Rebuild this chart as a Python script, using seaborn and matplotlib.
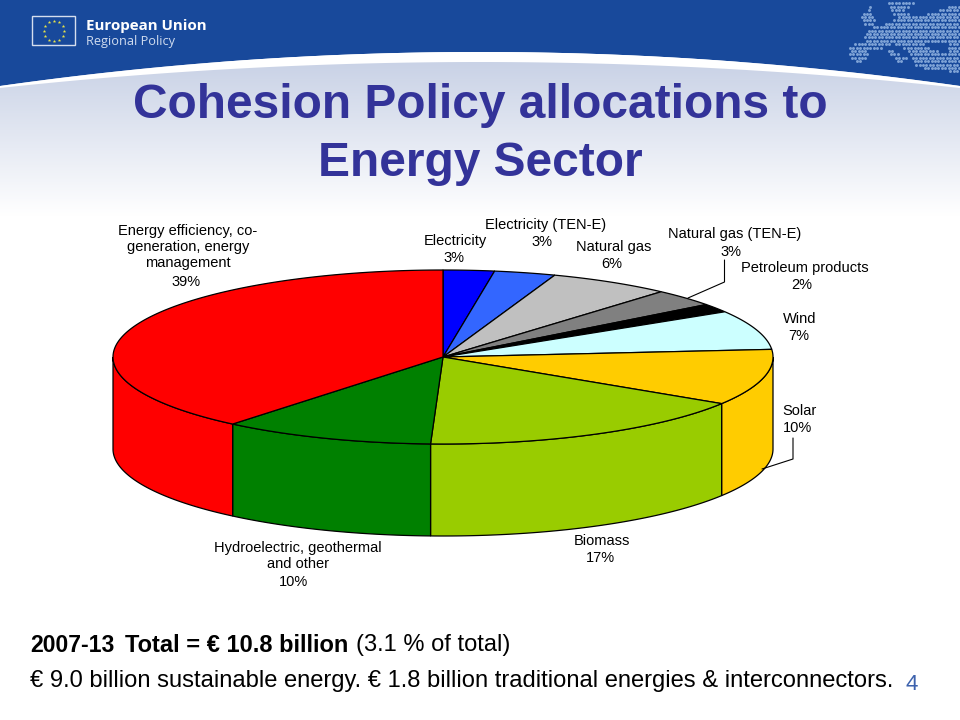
import matplotlib
matplotlib.use("Agg")
import matplotlib.pyplot as plt
from matplotlib.patches import Polygon, Rectangle
from matplotlib.path import Path
import numpy as np
import seaborn as sns

# Slices, clockwise from 12 o'clock
names = ['Electricity', 'Electricity (TEN-E)', 'Natural gas', 'Natural gas (TEN-E)',
         'Petroleum products', 'Wind', 'Solar', 'Biomass',
         'Hydroelectric, geothermal\nand other', 'Energy efficiency, co-\ngeneration, energy\nmanagement']
shares = [2.5, 3.0, 6.0, 3.2, 1.6, 7.3, 10.4, 16.6, 10.4, 39.0]
pct_labels = [3, 3, 6, 3, 2, 7, 10, 17, 10, 39]
slice_colors = ['#0000ff', '#3366ff', '#c0c0c0', '#808080', '#000000',
                '#ccffff', '#ffcc00', '#99cc00', '#008000', '#ff0000']
# label centres in pixels
name_x = [455, 546, 614, 735, 805, 800, 799, 602, 298, 188]
name_y = [241, 225, 247, 234, 268, 319, 411, 541, 556, 247]
pct_x = [454, 542, 612, 731, 802, 799, 798, 600, 294, 186]
pct_y = [258, 242, 264, 252, 285, 336, 428, 558, 582, 282]

title_lines = ['Cohesion Policy allocations to', 'Energy Sector']

HEADER = '#18499b'
TITLE = '#333399'

sns.set_theme(style='white')
plt.rcParams['font.family'] = ['Liberation Sans', 'DejaVu Sans']
palette = sns.color_palette(slice_colors)

fig = plt.figure(figsize=(9.6, 7.2), dpi=100)
ax = fig.add_axes([0, 0, 1, 1])
ax.set_xlim(0, 960)
ax.set_ylim(720, 0)
ax.axis('off')

# Slide background
grad = np.linspace(0, 1, 200).reshape(-1, 1)
start = np.array([201, 210, 230]) / 255
bg = start + (1 - start) * grad[..., None]
ax.imshow(bg, extent=[0, 960, 216, 62], aspect='auto', zorder=0)
ax.set_xlim(0, 960)
ax.set_ylim(720, 0)

xs = np.linspace(0, 960, 300)
u = ((xs - 480) / 480) ** 2
ax.fill_between(xs, 0, 52 + 34 * u, color=HEADER, lw=0, zorder=1)
ax.fill_between(xs, 52 + 34 * u, 62 + 26 * u, color='white', lw=0, zorder=1)

# EU flag
ax.add_patch(Rectangle((32, 16), 43, 29, fc='#18499b', ec='#d5deee', lw=1, zorder=2))
star_t = np.arange(12) * np.pi / 6
ax.scatter(54 + 10 * np.cos(star_t), 31 + 10 * np.sin(star_t), marker='*', s=7,
           color='#e6e34a', lw=0, zorder=3)
ax.text(85.5, 26, 'European Union', color='white', fontsize=10.9, fontweight='bold',
        family=['Open Sans', 'DejaVu Sans'], va='center', zorder=3)
ax.text(85.5, 41, 'Regional Policy', color='#d0dcef', fontsize=9.2,
        family=['Open Sans', 'DejaVu Sans'], va='center', zorder=3)

# Dotted Europe map
land = [
    [(850, 46), (858, 40), (868, 44), (868, 60), (856, 62), (850, 58)],
    [(863, 35), (873, 27), (893, 21), (903, 10), (917, 17), (960, 3), (960, 73),
     (937, 70), (917, 67), (907, 50), (893, 43), (877, 50), (867, 50)],
    [(887, 0), (917, 0), (903, 13), (893, 17), (888, 7)],
    [(860, 18), (870, 5), (877, 23), (865, 25)],
    [(885, 47), (907, 58), (900, 64), (885, 50)],
]
hole = Path([(925, 42), (950, 43), (947, 52), (930, 50)])
gx, gy = np.meshgrid(np.arange(850, 960, 3.4), np.arange(0, 74, 3.4))
gx[1::2] += 1.7
pts = np.c_[gx.ravel(), gy.ravel()]
inside = np.any([Path(p).contains_points(pts) for p in land], axis=0)
inside &= ~hole.contains_points(pts)
dots = ax.scatter(pts[inside, 0], pts[inside, 1], s=4.5, color='#7fa3d6', lw=0, zorder=2)
dots.set_snap(False)

# Title
for txt, y in zip(title_lines, [106, 163]):
    ax.text(480, y, txt, color=TITLE, fontsize=34.5, fontweight='bold',
            ha='center', va='center', zorder=5)

# 3D pie
cx, cy, rx, ry, depth = 443, 357, 330, 87, 92
edges = np.deg2rad(np.r_[0, np.cumsum(shares)] * 3.6)


def rim(t, dy=0):
    return np.c_[cx + rx * np.sin(t), cy + dy - ry * np.cos(t)]


for a, b, col in zip(edges[:-1], edges[1:], palette):
    lo, hi = max(a, np.pi / 2), min(b, 3 * np.pi / 2)
    if lo < hi:
        t = np.linspace(lo, hi, 80)
        wall = np.r_[rim(t), rim(t[::-1], depth)]
        ax.add_patch(Polygon(wall, fc=col, ec='black', lw=0.9, zorder=3))
for a, b, col in zip(edges[:-1], edges[1:], palette):
    t = np.linspace(a, b, 120)
    top = np.r_[[[cx, cy]], rim(t)]
    ax.add_patch(Polygon(top, fc=col, ec='black', lw=0.9, zorder=4))

# Labels and leader lines
for name, pct, nx, ny, px, py in zip(names, pct_labels, name_x, name_y, pct_x, pct_y):
    ax.text(nx, ny, name, fontsize=10.5, color='black', ha='center', va='center',
            linespacing=1.2, zorder=5)
    ax.text(px, py, f'{pct}%', fontsize=10.5, color='black', ha='center', va='center', zorder=5)
ax.plot([724.5, 724.5, 688], [260, 282, 298], color='black', lw=0.8, zorder=5)
ax.plot([793, 793, 762], [438, 459, 469], color='black', lw=0.8, zorder=5)

# Footer
ax.text(30, 645, '2007-13', fontsize=16.6, fontweight='bold', color='black', va='center')
ax.text(125, 645, 'Total = € 10.8 billion', fontsize=17, fontweight='bold', color='black', va='center')
ax.text(356, 645, '(3.1 % of total)', fontsize=17, color='black', va='center')
ax.text(30, 681, '€ 9.0 billion sustainable energy. € 1.8 billion traditional energies & interconnectors.',
        fontsize=17.1, color='black', va='center')
ax.text(912, 684, '4', fontsize=16, color='#3d62ad', ha='center', va='center')

fig.savefig('out.png', dpi=100)
